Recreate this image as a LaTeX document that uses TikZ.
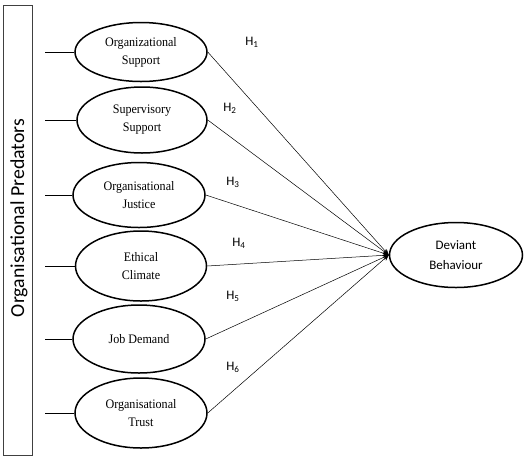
\documentclass[tikz,border=0pt]{standalone}
\usepackage{fontspec}
\setmainfont{Liberation Serif}
\newfontfamily\calib{Carlito}
\newfontfamily\serifc[FakeStretch=0.93]{Liberation Serif}
\usetikzlibrary{shapes.geometric,arrows.meta}
\begin{document}
\begin{tikzpicture}[x=1pt,y=-1pt,
  factor/.style={ellipse,draw,line width=1.5pt,inner sep=0pt,minimum width=132pt,
     align=center,font=\serifc\fontsize{13}{18}\selectfont},
  outcome/.style={ellipse,draw,line width=1.5pt,inner sep=0pt,minimum width=133pt,minimum height=65pt,
     align=center,font=\calib\fontsize{13}{20}\selectfont},
  hyp/.style={font=\calib\fontsize{13}{15}\selectfont,inner sep=0pt},
  link/.style={draw,line width=0.5pt,-{Stealth[length=6pt,width=5pt]}},
  stub/.style={draw,line width=0.8pt}]
\useasboundingbox (0,0) rectangle (528,459);
\node[draw=black!75,line width=0.8pt,minimum width=29pt,minimum height=450pt,inner sep=0pt] (box) at (17.5,230) {};
\node[rotate=90,font=\calib\fontsize{19.8}{22}\selectfont,inner sep=0pt] (lbl) at (19,218) {Organisational Predators};
\coordinate (st) at (45,0);
\node[factor,minimum height=59pt] (e1) at (141,52) {Organizational\\Support};
\node[factor,minimum height=66pt,minimum width=130pt] (e2) at (142,120) {Supervisory\\Support};
\node[factor,minimum height=65pt] (e3) at (139,195) {Organisational\\Justice};
\node[factor,minimum height=70pt,minimum width=131pt] (e4) at (141,266) {Ethical\\Climate};
\node[factor,minimum height=68pt] (e5) at (139,339) {Job Demand};
\node[factor,minimum height=70pt] (e6) at (141,413) {Organisational\\Trust};
\node[outcome] (d) at (456,255) {Deviant\\Behaviour};
\foreach \i in {1,...,6} {
  \draw[stub] (e\i.west) -- (e\i.west -| st);
  \draw[link] (e\i.east) -- (d.west);
}
\node[hyp] (h1) at (252,42) {H\textsubscript{1}};
\node[hyp] (h2) at (230,108) {H\textsubscript{2}};
\node[hyp] (h3) at (233,182) {H\textsubscript{3}};
\node[hyp] (h4) at (239,243) {H\textsubscript{4}};
\node[hyp] (h5) at (233,296) {H\textsubscript{5}};
\node[hyp] (h6) at (233,367) {H\textsubscript{6}};
\end{tikzpicture}
\end{document}
